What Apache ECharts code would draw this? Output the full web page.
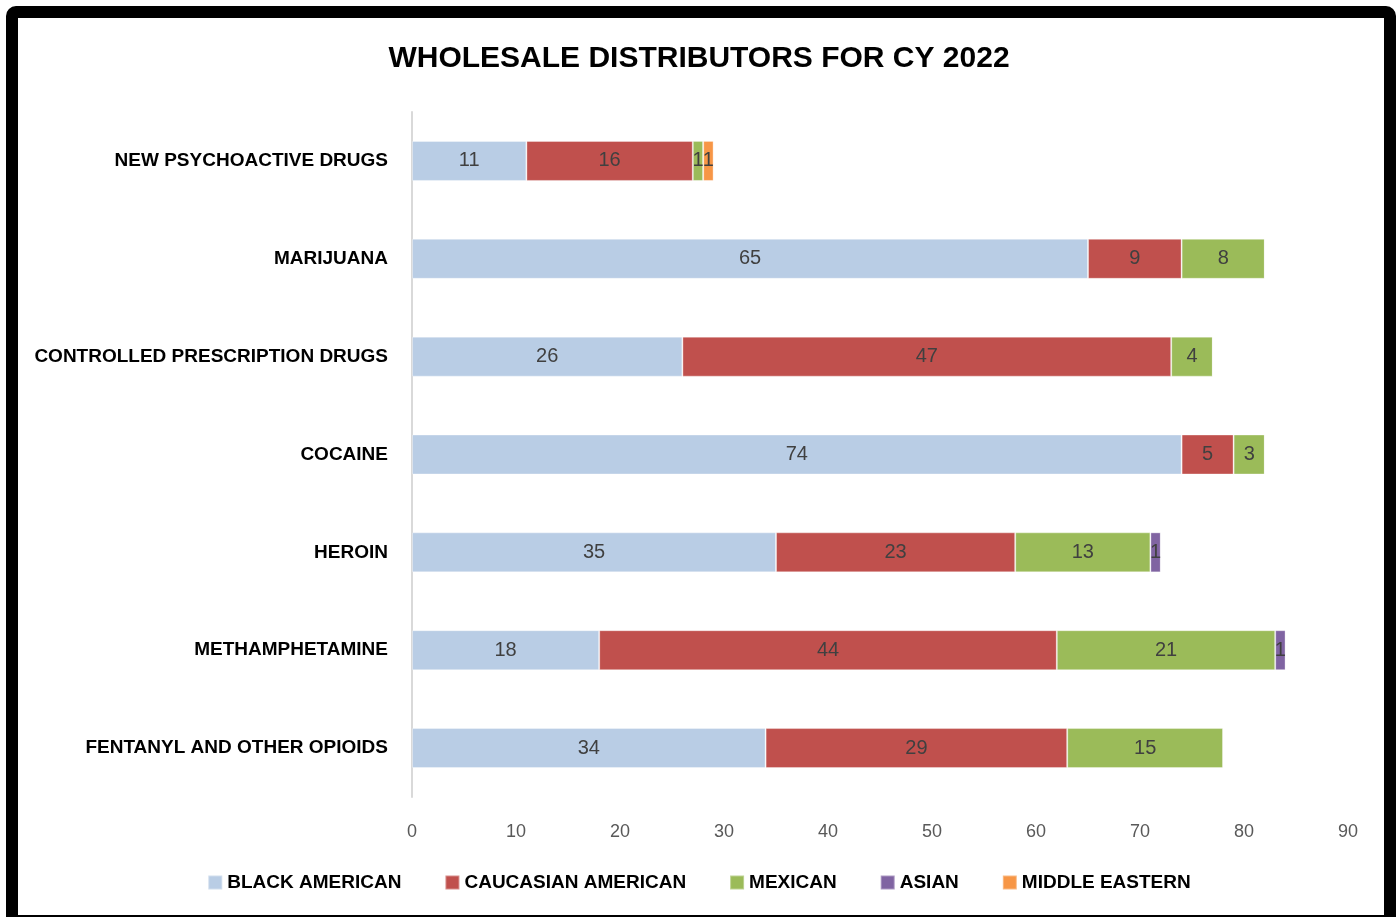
<!DOCTYPE html>
<html>
<head>
<meta charset="utf-8">
<script src="https://cdn.jsdelivr.net/npm/echarts@6/dist/echarts.min.js"></script>
<style>
  html, body { margin: 0; padding: 0; background: #ffffff; overflow: hidden; }
  #chart { position: absolute; left: 0; top: 0; width: 1398px; height: 917px; }
  #frame {
    position: absolute; left: 6px; top: 6px; width: 1390px; height: 921px;
    box-sizing: border-box; border: 12px solid #000; border-radius: 10px 10px 0 0;
    pointer-events: none;
  }
</style>
</head>
<body>
<div id="chart"></div>
<div id="frame"></div>
<script>
// Drug categories, listed bottom to top as they appear on the axis
const categories = [
  'FENTANYL AND OTHER OPIOIDS',
  'METHAMPHETAMINE',
  'HEROIN',
  'COCAINE',
  'CONTROLLED PRESCRIPTION DRUGS',
  'MARIJUANA',
  'NEW PSYCHOACTIVE DRUGS'
];

const blackAmerican     = [34, 18, 35, 74, 26, 65, 11];
const caucasianAmerican = [29, 44, 23, 5, 47, 9, 16];
const mexican           = [15, 21, 13, 3, 4, 8, 1];
const asian             = [0, 1, 1, 0, 0, 0, 0];
const middleEastern     = [0, 0, 0, 0, 0, 0, 1];

const xTicks = [0, 10, 20, 30, 40, 50, 60, 70, 80, 90];

const seriesDefs = [
  { name: 'BLACK AMERICAN', data: blackAmerican, color: '#B9CDE5' },
  { name: 'CAUCASIAN AMERICAN', data: caucasianAmerican, color: '#C0504D' },
  { name: 'MEXICAN', data: mexican, color: '#9BBB59' },
  { name: 'ASIAN', data: asian, color: '#8064A2' },
  { name: 'MIDDLE EASTERN', data: middleEastern, color: '#F79646' }
];

const font = 'Liberation Sans, Arial, sans-serif';

const chart = echarts.init(document.getElementById('chart'), null, { renderer: 'canvas' });

chart.setOption({
  animation: false,
  backgroundColor: '#ffffff',
  title: {
    text: 'WHOLESALE DISTRIBUTORS FOR CY 2022',
    left: 'center',
    top: 39,
    textStyle: { fontFamily: font, fontWeight: 'bold', fontSize: 30, color: '#000000' }
  },
  legend: {
    bottom: 20,
    left: 'center',
    itemWidth: 14,
    itemHeight: 14,
    itemGap: 43,
    icon: 'rect',
    textStyle: { fontFamily: font, fontWeight: 'bold', fontSize: 19, color: '#000000' },
    data: seriesDefs.map(s => s.name)
  },
  grid: { left: 412, right: 50, top: 112, bottom: 120 },
  xAxis: {
    type: 'value',
    min: xTicks[0],
    max: xTicks[xTicks.length - 1],
    interval: 10,
    axisLine: { show: false },
    axisTick: { show: false },
    splitLine: { show: false },
    axisLabel: { fontFamily: font, fontSize: 18, color: '#595959', margin: 26 }
  },
  yAxis: {
    type: 'category',
    data: categories,
    axisLine: { show: true, lineStyle: { color: '#D9D9D9', width: 2 } },
    axisTick: { show: false },
    axisLabel: { fontFamily: font, fontWeight: 'bold', fontSize: 19, color: '#000000', margin: 24 }
  },
  series: seriesDefs.map(s => ({
    name: s.name,
    type: 'bar',
    stack: 'total',
    barWidth: 40,
    data: s.data,
    itemStyle: { color: s.color, borderColor: 'rgba(255,255,255,0.35)', borderWidth: 1 },
    label: {
      show: true,
      position: 'inside',
      fontFamily: font,
      fontSize: 20,
      color: '#404040',
      formatter: p => (p.value > 0 ? String(p.value) : '')
    }
  }))
});
</script>
</body>
</html>
